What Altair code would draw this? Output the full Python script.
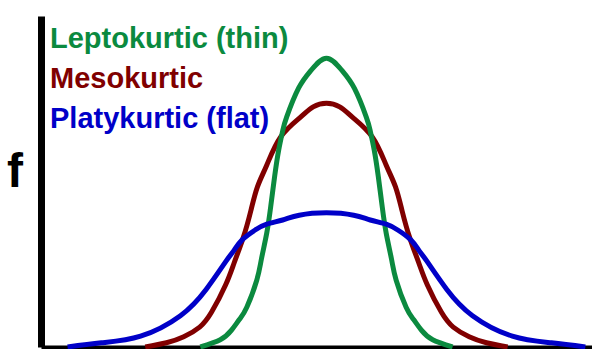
import altair as alt
import pandas as pd

# Sampled curve heights (x in standard units, f = relative frequency)
lepto_x = [-1.90, -1.60, -1.43, -1.31, -1.20, -1.05, -0.98, -0.90, -0.84, -0.78, -0.72, -0.66, -0.60,
           -0.42, -0.23, 0.0, 0.23, 0.42,
           0.60, 0.66, 0.72, 0.78, 0.84, 0.90, 0.98, 1.05, 1.20, 1.31, 1.43, 1.60, 1.90]
lepto_f = [0.0, 0.012, 0.028, 0.046, 0.066, 0.111, 0.146, 0.189, 0.233, 0.284, 0.327, 0.359, 0.382,
           0.430, 0.460, 0.480, 0.460, 0.430,
           0.382, 0.359, 0.327, 0.284, 0.233, 0.189, 0.146, 0.111, 0.066, 0.046, 0.028, 0.012, 0.0]

meso_x = [-2.73, -2.41, -2.15, -1.91, -1.73, -1.52, -1.39, -1.25, -1.14, -1.04, -0.90, -0.69, -0.39,
          -0.20, 0.0, 0.20,
          0.39, 0.69, 0.90, 1.04, 1.14, 1.25, 1.39, 1.52, 1.73, 1.91, 2.15, 2.41, 2.73]
meso_f = [0.0, 0.007, 0.017, 0.033, 0.058, 0.103, 0.140, 0.183, 0.226, 0.266, 0.302, 0.349, 0.382,
          0.399, 0.405, 0.399,
          0.382, 0.349, 0.302, 0.266, 0.226, 0.183, 0.140, 0.103, 0.058, 0.033, 0.017, 0.007, 0.0]

platy_x = [-3.90, -3.39, -2.80, -2.20, -1.81, -1.51, -1.39, -1.27, -1.08, -0.90, -0.66, -0.41, 0.0,
           0.41, 0.66, 0.90, 1.08, 1.27, 1.39, 1.51, 1.81, 2.20, 2.80, 3.39, 3.90]
platy_f = [0.0, 0.007, 0.018, 0.052, 0.096, 0.143, 0.161, 0.178, 0.194, 0.204, 0.211, 0.219, 0.223,
           0.219, 0.211, 0.204, 0.194, 0.178, 0.161, 0.143, 0.096, 0.052, 0.018, 0.007, 0.0]

labels = ["Leptokurtic (thin)", "Mesokurtic", "Platykurtic (flat)"]
colors = ["#0b8a3f", "#800000", "#0000c8"]

FONT = "Liberation Sans"

x_scale = alt.Scale(domain=[-4.3, 4.0], nice=False, zero=False)
y_scale = alt.Scale(domain=[0, 0.55], nice=False, zero=True)

x_axis = alt.Axis(domain=True, domainColor="black", domainWidth=4, ticks=False,
                  labels=False, grid=False)
y_axis = alt.Axis(domain=True, domainColor="black", domainWidth=7, ticks=False,
                  labels=False, grid=False)


def curve(xs, fs, color):
    df = pd.DataFrame({"x": xs, "f": fs})
    return alt.Chart(df).mark_line(
        color=color, strokeWidth=5, interpolate="natural", clip=False
    ).encode(
        x=alt.X("x:Q", scale=x_scale, axis=x_axis, title=None),
        y=alt.Y("f:Q", scale=y_scale, axis=y_axis, title=None),
    )


def label(text, color, px, py, size):
    return alt.Chart(pd.DataFrame({"t": [text]})).mark_text(
        align="left", baseline="alphabetic", font=FONT, fontWeight="bold",
        fontSize=size, color=color
    ).encode(x=alt.value(px), y=alt.value(py), text="t:N")


curves = [
    curve(meso_x, meso_f, colors[1]),
    curve(lepto_x, lepto_f, colors[0]),
    curve(platy_x, platy_f, colors[2]),
]

texts = [
    label(labels[0], colors[0], 9, 32, 29),
    label(labels[1], colors[1], 9, 72, 29),
    label(labels[2], colors[2], 9, 112, 29),
    label("f", "black", -34, 171, 48),
]

chart = alt.layer(*curves, *texts).properties(
    width=551,
    height=331,
    autosize=alt.AutoSizeParams(type="none"),
    padding={"left": 41, "top": 16, "right": 0, "bottom": 2},
    background="white",
).configure_view(stroke=None)

chart.save("out.html", embed_options={"renderer": "svg", "actions": False})
